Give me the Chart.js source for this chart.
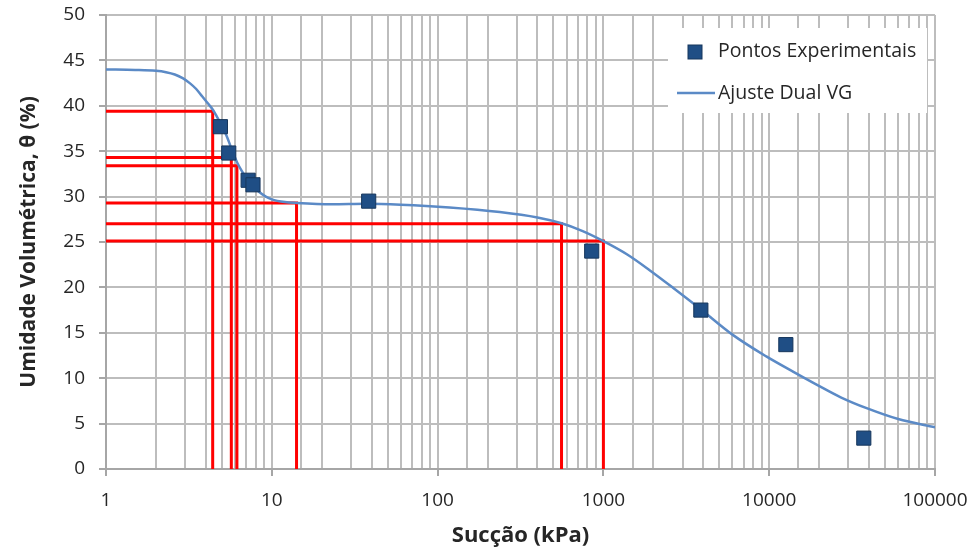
<!DOCTYPE html>
<html>
<head>
<meta charset="utf-8">
<script src="https://cdn.jsdelivr.net/npm/chart.js@4/dist/chart.umd.min.js"></script>
<style>
html,body{margin:0;padding:0;background:#fff;}
#wrap{width:973px;height:552px;}
</style>
</head>
<body>
<div id="wrap"><canvas id="c" width="973" height="552"></canvas></div>
<script>
// Experimental points (suction kPa, volumetric water content %)
const pointSuction = [4.9, 5.5, 7.2, 7.7, 38.4, 850, 3870, 12600, 37200];
const pointTheta   = [37.7, 34.8, 31.8, 31.3, 29.5, 24.0, 17.5, 13.7, 3.4];

// Dual VG fitted curve
const curveSuction = [1, 1.5, 2, 2.3, 2.6, 2.9, 3.2, 3.5, 3.8, 4.1, 4.4, 4.7, 5.0, 5.3, 5.6, 5.9, 6.2, 6.6, 7.0, 7.6, 8.4, 9.2, 10, 12, 14.1, 23, 37, 60, 118, 237, 400, 559, 750, 1000, 1400, 1900, 2700, 3800, 6000, 9600, 14000, 19300, 27000, 38700, 60000, 100000];
const curveTheta   = [44.0, 43.95, 43.85, 43.7, 43.45, 43.05, 42.5, 41.85, 41.05, 40.3, 39.6, 38.7, 37.8, 36.8, 35.7, 34.6, 33.7, 32.8, 32.1, 31.3, 30.5, 30.0, 29.7, 29.4, 29.3, 29.15, 29.2, 29.1, 28.8, 28.3, 27.7, 27.06, 26.2, 25.1, 23.6, 21.9, 19.8, 17.7, 14.8, 12.4, 10.7, 9.3, 7.9, 6.7, 5.5, 4.6];

// Red reading lines: theta level and the suction where it meets the curve
const readTheta   = [39.4, 34.3, 33.4, 29.3, 27.0, 25.1];
const readSuction = [4.4, 5.7, 6.16, 14.1, 559, 1000];

const xTickValues = [1, 10, 100, 1000, 10000, 100000];
const yTickLabels = [0, 5, 10, 15, 20, 25, 30, 35, 40, 45, 50];

const FONT = "'Open Sans', sans-serif";

const datasets = [];
datasets.push({
  label: 'Pontos Experimentais',
  data: pointSuction.map((x, i) => ({x, y: pointTheta[i]})),
  pointStyle: 'rect',
  pointRadius: 10,
  backgroundColor: '#1f4e85',
  borderColor: '#16365c',
  borderWidth: 1,
  showLine: false,
  order: 0
});
datasets.push({
  label: 'Ajuste Dual VG',
  data: curveSuction.map((x, i) => ({x, y: curveTheta[i]})),
  showLine: true,
  borderColor: '#5b8ac6',
  borderWidth: 2.5,
  pointRadius: 0,
  cubicInterpolationMode: 'monotone',
  fill: false,
  order: 1
});
readTheta.forEach((t, i) => {
  datasets.push({
    label: 'read' + i,
    data: [{x: 1, y: t}, {x: readSuction[i], y: t}, {x: readSuction[i], y: 0}],
    showLine: true,
    borderColor: '#ff0000',
    borderWidth: 3,
    pointRadius: 0,
    fill: false,
    order: 2
  });
});

const legendPlugin = {
  id: 'insideLegend',
  afterDatasetsDraw(chart) {
    const ctx = chart.ctx;
    ctx.save();
    ctx.fillStyle = '#ffffff';
    ctx.fillRect(668, 28, 259, 85);
    ctx.fillStyle = '#1f4e85';
    ctx.strokeStyle = '#16365c';
    ctx.lineWidth = 1;
    ctx.fillRect(688, 45, 14, 14);
    ctx.strokeRect(688, 45, 14, 14);
    ctx.strokeStyle = '#5b8ac6';
    ctx.lineWidth = 2.5;
    ctx.beginPath();
    ctx.moveTo(677, 93);
    ctx.lineTo(715, 93);
    ctx.stroke();
    ctx.fillStyle = '#262626';
    ctx.font = "19.5px " + FONT;
    ctx.textBaseline = 'middle';
    ctx.textAlign = 'left';
    ctx.fillText('Pontos Experimentais', 718, 51);
    ctx.fillText('Ajuste Dual VG', 718, 93);
    ctx.restore();
  }
};

const isMajor = v => { const l = Math.log10(v); return Math.abs(l - Math.round(l)) < 1e-9; };

new Chart(document.getElementById('c'), {
  type: 'scatter',
  data: { datasets },
  plugins: [legendPlugin],
  options: {
    responsive: false,
    devicePixelRatio: 1,
    animation: false,
    layout: { padding: { top: 15, right: 38, left: 0, bottom: 0 } },
    plugins: { legend: { display: false }, tooltip: { enabled: false }, title: { display: false } },
    scales: {
      x: {
        type: 'logarithmic',
        min: 1, max: 100000,
        afterFit(s) { s.height = 83; s.paddingLeft = 0; s.paddingRight = 0; },
        border: { color: '#a6a6a6', width: 2 },
        grid: {
          color: '#bdbdbd', lineWidth: 2, tickLength: 7,
          tickColor: ctx => (ctx.tick && isMajor(ctx.tick.value)) ? '#a6a6a6' : 'rgba(0,0,0,0)'
        },
        ticks: {
          autoSkip: false, maxRotation: 0, padding: 13,
          color: '#262626', font: { family: FONT, size: 19 },
          callback: v => (isMajor(v) && xTickValues.includes(Math.round(v))) ? String(Math.round(v)) : ''
        },
        title: {
          display: true, text: 'Sucção (kPa)', color: '#262626',
          font: { family: FONT, size: 22, weight: 'bold' }, padding: { top: 0, bottom: 3 }
        }
      },
      y: {
        min: 0, max: 50,
        afterFit(s) { s.width = 106; s.paddingTop = 0; s.paddingBottom = 0; },
        afterBuildTicks(s) { s.ticks = yTickLabels.map(v => ({value: v})); },
        border: { color: '#a6a6a6', width: 2 },
        grid: { color: '#bdbdbd', lineWidth: 2, tickLength: 7, tickColor: '#a6a6a6' },
        ticks: { stepSize: 5, padding: 14, color: '#262626', font: { family: FONT, size: 19 } },
        title: {
          display: true, text: 'Umidade Volumétrica, θ (%)', color: '#262626',
          font: { family: FONT, size: 21, weight: 'bold' }, padding: { top: 16, bottom: 0 }
        }
      }
    }
  }
});
</script>
</body>
</html>
